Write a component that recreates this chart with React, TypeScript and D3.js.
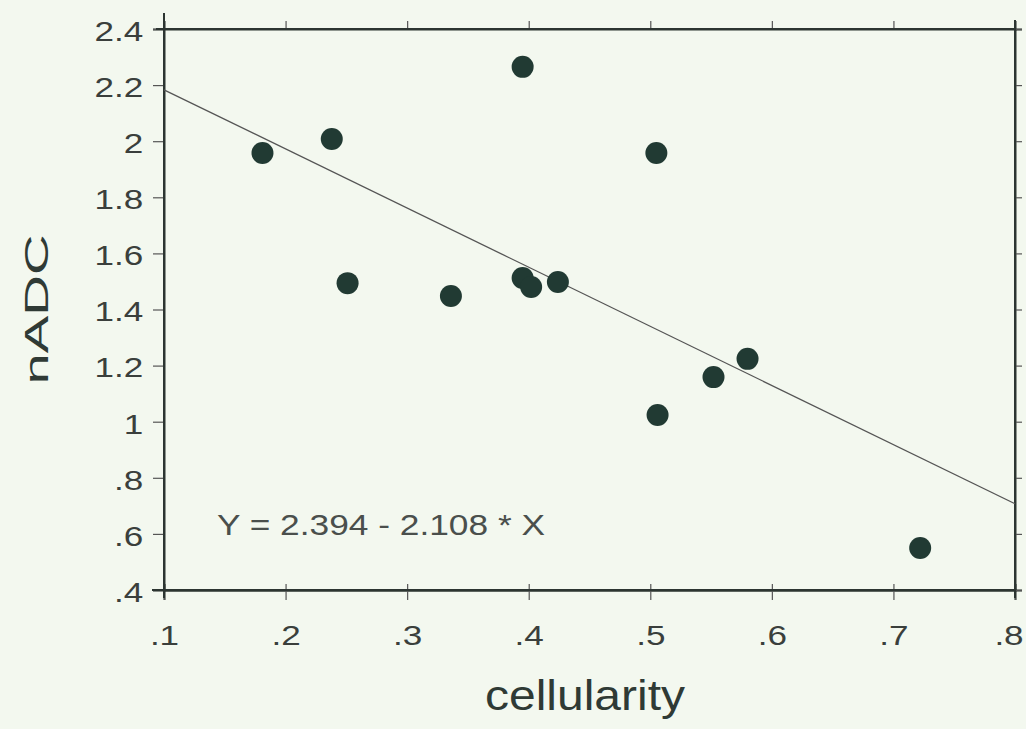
import React, { useEffect, useRef } from 'react';
import * as d3 from 'd3';

// cellularity vs nADC
const cellularity = [0.181, 0.238, 0.251, 0.395, 0.336, 0.395, 0.402, 0.424, 0.505, 0.580, 0.552, 0.506, 0.722];
const nADC = [1.958, 2.008, 1.494, 2.265, 1.448, 1.512, 1.480, 1.498, 1.958, 1.224, 1.159, 1.024, 0.550];
const xTicks = [0.1, 0.2, 0.3, 0.4, 0.5, 0.6, 0.7, 0.8];
const yTicks = [0.4, 0.6, 0.8, 1, 1.2, 1.4, 1.6, 1.8, 2, 2.2, 2.4];
const fitIntercept = 2.394;
const fitSlope = -2.108;

const W = 1026;
const H = 729;
const margin = { top: 29, right: 11, bottom: 139, left: 164 };
const FONT = '"Liberation Sans", Arial, sans-serif';
const BG = '#f3f8ef';
const INK = '#2c3531';
const STRETCH = 1.3; // the scan is stretched sideways

const fmt = (v: number) => {
  const s = d3.format('~g')(+v.toFixed(2));
  return s.startsWith('0.') ? s.slice(1) : s;
};

const App: React.FC = () => {
  const svgRef = useRef<SVGSVGElement | null>(null);

  useEffect(() => {
    document.body.style.margin = '0';
    if (!svgRef.current) return;
    const svg = d3.select(svgRef.current);
    svg.selectAll('*').remove();

    const x = d3.scaleLinear().domain([0.1, 0.8]).range([margin.left, W - margin.right]);
    const y = d3.scaleLinear().domain([0.4, 2.4]).range([H - margin.bottom, margin.top]);

    svg.append('rect').attr('width', W).attr('height', H).attr('fill', BG);

    const minorX = d3.range(0.1, 0.8001, 0.02);
    const minorY = d3.range(0.4, 2.4001, 0.1);
    const noLabel = () => '';

    // bottom axis (ticks cross the line)
    const gB = svg.append('g').attr('transform', `translate(0,${y(0.4)})`);
    gB.call(d3.axisBottom(x).tickValues(minorX).tickSize(5).tickFormat(noLabel));
    gB.call(d3.axisTop(x).tickValues(minorX).tickSize(3).tickFormat(noLabel));
    gB.call(d3.axisTop(x).tickValues(xTicks).tickSize(6).tickFormat(noLabel));
    const gBL = svg.append('g').attr('transform', `translate(0,${y(0.4)})`);
    gBL.call(d3.axisBottom(x).tickValues(xTicks).tickSize(10).tickFormat(d => fmt(+d)));
    // top axis
    const gT = svg.append('g').attr('transform', `translate(0,${y(2.4)})`);
    gT.call(d3.axisTop(x).tickValues(minorX).tickSize(4).tickFormat(noLabel));
    gT.call(d3.axisTop(x).tickValues(xTicks).tickSize(8).tickFormat(noLabel));
    // left axis
    const gL = svg.append('g').attr('transform', `translate(${x(0.1)},0)`);
    gL.call(d3.axisLeft(y).tickValues(minorY).tickSize(5).tickFormat(noLabel));
    gL.call(d3.axisLeft(y).tickValues(yTicks).tickSize(11).tickPadding(5).tickFormat(d => fmt(+d)));
    // right axis
    const gR = svg.append('g').attr('transform', `translate(${x(0.8)},0)`);
    gR.call(d3.axisRight(y).tickValues(minorY).tickSize(4).tickFormat(noLabel));
    gR.call(d3.axisRight(y).tickValues(yTicks).tickSize(7).tickFormat(noLabel));

    [gB, gBL, gT, gL, gR].forEach(g => {
      g.selectAll('.domain').attr('stroke', INK).attr('stroke-width', 2);
      g.selectAll('.tick line').attr('stroke', '#555').attr('stroke-width', 1.2);
      g.selectAll('.tick text')
        .attr('font-family', FONT)
        .attr('font-size', 27)
        .attr('fill', '#3a3f3c')
        .attr('transform', `scale(${STRETCH},1)`);
    });
    gBL.selectAll('.tick text').attr('dy', '1.55em');
    // last label sits tight against the right edge in the scan
    gBL.selectAll<SVGTextElement, number>('.tick text')
      .filter(d => d === 0.8)
      .attr('x', -5);
    gL.selectAll('.tick text').attr('dy', '0.42em');

    // axis lines poke a little past the corners, as in the scan
    const ext = svg.append('g').attr('stroke', INK).attr('stroke-width', 2);
    ext.append('line').attr('x1', x(0.1)).attr('x2', x(0.1)).attr('y1', y(2.4) - 16).attr('y2', y(0.4) + 8);
    ext.append('line').attr('x1', x(0.8)).attr('x2', x(0.8)).attr('y1', y(2.4) - 9).attr('y2', y(0.4) + 8);
    ext.append('line').attr('x1', x(0.1) - 12).attr('x2', x(0.8)).attr('y1', y(0.4)).attr('y2', y(0.4));
    ext.append('line').attr('x1', x(0.1) - 8).attr('x2', x(0.8)).attr('y1', y(2.4)).attr('y2', y(2.4));

    // regression line
    const fit = (v: number) => fitIntercept + fitSlope * v;
    svg.append('line')
      .attr('x1', x(0.1)).attr('y1', y(fit(0.1)))
      .attr('x2', x(0.8)).attr('y2', y(fit(0.8)))
      .attr('stroke', '#555').attr('stroke-width', 1.3);

    // points
    svg.append('g')
      .selectAll('circle')
      .data(cellularity.map((c, i) => [c, nADC[i]]))
      .enter()
      .append('circle')
      .attr('cx', d => x(d[0]))
      .attr('cy', d => y(d[1]))
      .attr('r', 11)
      .attr('fill', '#213a33');

    svg.append('text')
      .attr('x', 217).attr('y', 535)
      .attr('font-family', FONT).attr('font-size', 29).attr('fill', '#4a4f4c')
      .attr('textLength', 328).attr('lengthAdjust', 'spacingAndGlyphs')
      .text('Y = 2.394 - 2.108 * X');

    svg.append('text')
      .attr('x', 485).attr('y', 710)
      .attr('font-family', FONT).attr('font-size', 42).attr('fill', '#2f3a35')
      .attr('textLength', 200).attr('lengthAdjust', 'spacingAndGlyphs')
      .text('cellularity');

    svg.append('text')
      .attr('transform', `translate(48,${(y(0.4) + y(2.4)) / 2}) rotate(-90)`)
      .attr('text-anchor', 'middle')
      .attr('font-family', FONT).attr('font-size', 33).attr('fill', '#2f3a35')
      .attr('textLength', 150).attr('lengthAdjust', 'spacingAndGlyphs')
      .text('nADC');
  }, []);

  return <svg ref={svgRef} width={W} height={H} style={{ display: 'block' }} />;
};

export default App;
